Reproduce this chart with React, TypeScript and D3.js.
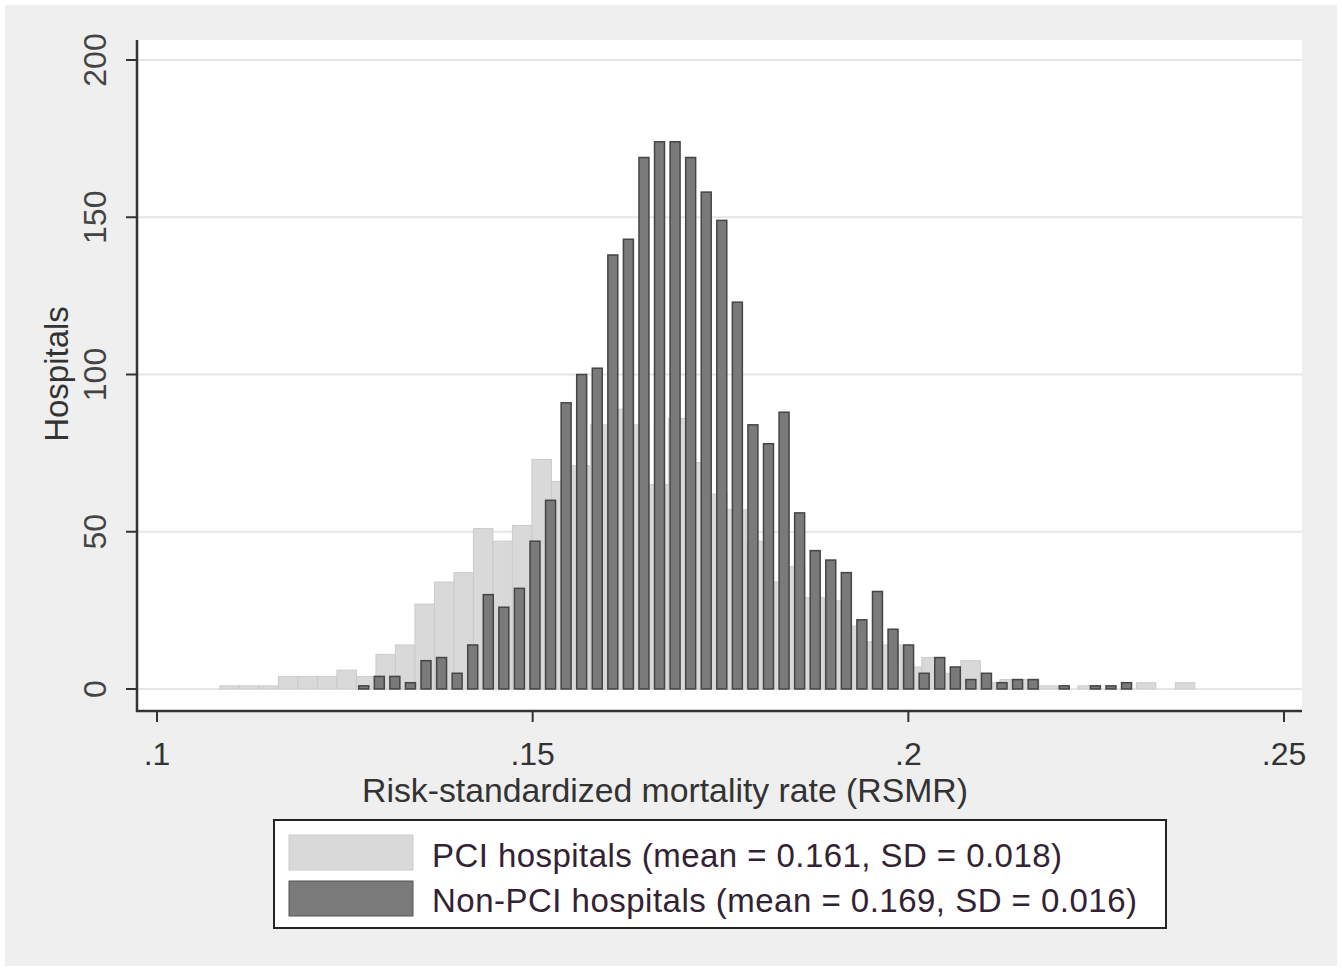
import React from 'react';
import * as d3 from 'd3';

// PCI hospitals histogram: 50 bins
const pciStart = 0.10838;
const pciBinWidth = 0.002595;
const pciCounts = [
  1, 1, 1, 4, 4, 4, 6, 4, 11, 14,
  27, 34, 37, 51, 47, 52, 73, 66, 71, 84,
  89, 84, 65, 86, 72, 62, 57, 47, 34, 39,
  29, 28, 20, 15, 14, 7, 10, 5, 9, 2,
  3, 3, 1, 0, 1, 0, 0, 2, 0, 2,
];

// Non-PCI hospitals histogram: 50 bins
const nonPciStart = 0.12648;
const nonPciBinWidth = 0.002072;
const nonPciCounts = [
  1, 4, 4, 2, 9, 10, 5, 14, 30, 26,
  32, 47, 60, 91, 100, 102, 138, 143, 169, 174,
  174, 169, 158, 149, 123, 84, 78, 88, 56, 44,
  41, 37, 22, 31, 19, 14, 5, 10, 7, 3,
  5, 2, 3, 3, 0, 1, 0, 1, 1, 2,
];

const xTicks = [0.1, 0.15, 0.2, 0.25];
const xTickLabels = ['.1', '.15', '.2', '.25'];
const yTicks = [0, 50, 100, 150, 200];
const xTitle = 'Risk-standardized mortality rate (RSMR)';
const yTitle = 'Hospitals';
const legendLabels = [
  'PCI hospitals (mean = 0.161, SD = 0.018)',
  'Non-PCI hospitals (mean = 0.169, SD = 0.016)',
];

const FONT = '"Liberation Sans", Arial, sans-serif';

export default function App() {
  const W = 1342;
  const H = 971;
  const plotLeft = 138;
  const plotRight = 1302;
  const plotTop = 40;
  const plotBottom = 712;

  const x = d3.scaleLinear().domain([0.1, 0.25]).range([157, 1284]);
  const y = d3.scaleLinear().domain([0, 200]).range([689, 60]);

  const pciBins = pciCounts.map((c, i) => ({
    x0: pciStart + i * pciBinWidth,
    x1: pciStart + (i + 1) * pciBinWidth,
    c,
  }));
  const nonBins = nonPciCounts.map((c, i) => ({
    x0: nonPciStart + i * nonPciBinWidth,
    x1: nonPciStart + (i + 1) * nonPciBinWidth,
    c,
  }));
  const barFrac = 0.64;

  return (
    <div style={{ position: 'absolute', left: 0, top: 0 }}>
      <svg width={W} height={H} style={{ display: 'block', fontFamily: FONT }}>
        <rect x={0} y={0} width={W} height={H} fill="#ffffff" />
        <rect x={5} y={5} width={W - 10} height={H - 10} fill="#efefef" />
        <rect
          x={plotLeft}
          y={plotTop}
          width={plotRight - plotLeft}
          height={plotBottom - plotTop}
          fill="#ffffff"
        />
        {/* gridlines */}
        {yTicks.map((t) => (
          <line
            key={'g' + t}
            x1={plotLeft}
            x2={plotRight}
            y1={y(t)}
            y2={y(t)}
            stroke="#e6e6e6"
            strokeWidth={2}
          />
        ))}
        {/* PCI bars */}
        {pciBins.map((b, i) =>
          b.c > 0 ? (
            <rect
              key={'p' + i}
              x={x(b.x0)}
              y={y(b.c)}
              width={x(b.x1) - x(b.x0)}
              height={y(0) - y(b.c)}
              fill="#d9d9d9"
              stroke="#cbcbcb"
              strokeWidth={1}
            />
          ) : null
        )}
        {/* Non-PCI bars */}
        {nonBins.map((b, i) => {
          if (b.c <= 0) return null;
          const full = x(b.x1) - x(b.x0);
          const w = full * barFrac;
          const cx = (x(b.x0) + x(b.x1)) / 2;
          return (
            <rect
              key={'n' + i}
              x={cx - w / 2}
              y={y(b.c)}
              width={w}
              height={y(0) - y(b.c)}
              fill="#7a7a7a"
              stroke="#454545"
              strokeWidth={1.5}
            />
          );
        })}
        {/* axes */}
        <line x1={137} x2={137} y1={plotTop} y2={plotBottom} stroke="#333" strokeWidth={2.5} />
        <line x1={136} x2={plotRight} y1={711} y2={711} stroke="#333" strokeWidth={2.5} />
        {yTicks.map((t) => (
          <g key={'yt' + t}>
            <line x1={126} x2={137} y1={y(t)} y2={y(t)} stroke="#333" strokeWidth={2} />
            <text
              transform={`translate(106,${y(t)}) rotate(-90)`}
              textAnchor="middle"
              fontSize={32}
              fill="#444"
            >
              {t}
            </text>
          </g>
        ))}
        {xTicks.map((t, i) => (
          <g key={'xt' + t}>
            <line x1={x(t)} x2={x(t)} y1={711} y2={722} stroke="#333" strokeWidth={2} />
            <text x={x(t)} y={765} textAnchor="middle" fontSize={32} fill="#333">
              {xTickLabels[i]}
            </text>
          </g>
        ))}
        <text
          x={362}
          y={802}
          fontSize={33}
          fill="#333"
          textLength={606}
          lengthAdjust="spacingAndGlyphs"
        >
          {xTitle}
        </text>
        <text
          transform={`translate(68,374) rotate(-90)`}
          textAnchor="middle"
          fontSize={33}
          fill="#333"
        >
          {yTitle}
        </text>
        {/* legend */}
        <rect x={274} y={820} width={892} height={108} fill="#ffffff" stroke="#222" strokeWidth={2} />
        <rect x={289} y={835} width={124} height={35} fill="#d9d9d9" stroke="#cbcbcb" strokeWidth={1} />
        <rect x={289} y={881} width={124} height={35} fill="#7a7a7a" stroke="#555" strokeWidth={1} />
        <text
          x={432}
          y={867}
          fontSize={33}
          fill="#332233"
          textLength={630}
          lengthAdjust="spacing"
        >
          {legendLabels[0]}
        </text>
        <text
          x={432}
          y={912}
          fontSize={33}
          fill="#332233"
          textLength={705}
          lengthAdjust="spacing"
        >
          {legendLabels[1]}
        </text>
      </svg>
    </div>
  );
}
